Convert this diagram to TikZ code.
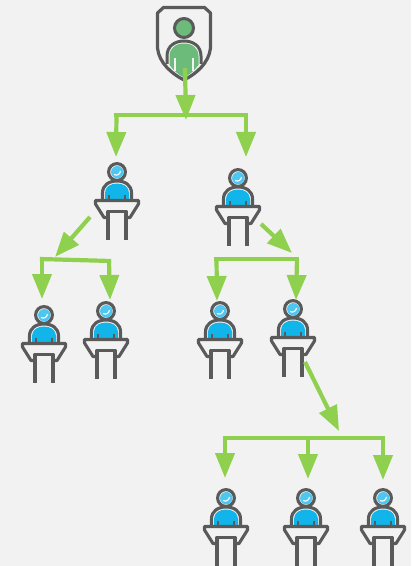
\documentclass[tikz,border=0pt]{standalone}
\usetikzlibrary{arrows.meta}
\definecolor{bgc}{HTML}{F2F2F2}
\definecolor{grayc}{HTML}{5A5A5A}
\definecolor{linkc}{HTML}{8FD14F}
\definecolor{bluec}{HTML}{12B5EA}
\definecolor{greenc}{HTML}{6DBB7A}
\tikzset{
  link/.style={draw=linkc,line width=4.2bp,line cap=butt,line join=miter},
  arrowlink/.style={link,-{Triangle[length=25bp,width=19bp]}},
  outline/.style={draw=grayc,line width=3.1bp,line join=round},
  speaker/.pic={
    % head
    \path[outline,fill=bgc] (0,0) circle (8.4);
    \path[fill=bluec!75!white] (0.3,0.2) circle (6.2);
    \path[draw=white,line width=1.1bp] (-3,2.5) .. controls (0,4) and (3,2.5) .. (3.5,-1);
    % body
    \path[outline,fill=bgc] (-14.5,27) -- (-14.5,21) .. controls (-14.5,13) and (-8,9) .. (0,9)
       .. controls (8,9) and (14.5,13) .. (14.5,21) -- (14.5,27);
    \path[fill=bluec] (-12,27) -- (-12,21) .. controls (-12,14.5) and (-6,11.5) .. (0,11.5)
       .. controls (6,11.5) and (12,14.5) .. (12,21) -- (12,27) -- cycle;
    \path[draw=grayc,line width=1.3bp] (-8,27) -- (-8,22.5) (8,27) -- (8,22.5);
    % lectern
    \path[outline,fill=bgc] (-21.5,28.5) -- (21.5,28.5) -- (21.5,32) -- (13,45.5) -- (-13,45.5) -- (-21.5,32) -- cycle;
    \path[outline,fill=bgc] (-9,67.5) -- (-9,39.5) -- (9,39.5) -- (9,67.5);
  },
  chief/.pic={
    \path[draw=grayc,line width=3.2bp,line join=round]
      (-20.5,-20.5) -- (20.5,-20.5) -- (26.5,-15) -- (26.5,20) .. controls (25,35) and (12,46) .. (0,52)
      .. controls (-12,46) and (-25,35) .. (-26.5,20) -- (-26.5,-15) -- cycle;
    \path[draw=grayc,line width=3bp,fill=greenc] (0,0) circle (9.5);
    \path[draw=grayc,line width=3bp,fill=bgc] (-17,36) -- (-17,28) .. controls (-17,18) and (-9,13) .. (0,13)
       .. controls (9,13) and (17,18) .. (17,28) -- (17,36);
    \path[fill=greenc] (-14.5,37) -- (-14.5,28) .. controls (-14.5,20) and (-8,15.5) .. (0,15.5)
       .. controls (8,15.5) and (14.5,20) .. (14.5,28) -- (14.5,37) .. controls (10,43) and (5,47) .. (0,49.5)
       .. controls (-5,47) and (-10,43) .. (-14.5,37) -- cycle;
    \path[draw=bgc,line width=1.1bp] (-9,43) -- (-9,30) (9,43) -- (9,30);
  }
}
\begin{document}
\begin{tikzpicture}[x=1bp,y=-1bp]
\path[fill=bgc] (0,0) rectangle (411,566);
\useasboundingbox (0,0) rectangle (411,566);

% icons
\pic at (184,28) {chief};
\pic at (117,172) {speaker};
\pic at (238,178) {speaker};
\pic at (44,315) {speaker};
\pic at (106,311) {speaker};
\pic at (220,311) {speaker};
\pic at (293,309) {speaker};
\pic at (226,498) {speaker};
\pic at (306,498) {speaker};
\pic at (383,498) {speaker};

% connector anchors
\coordinate (rootout) at (185,68);
\coordinate (rootin) at (186,120);
\coordinate (barAl) at (116.5,115);
\coordinate (barAr) at (246,115);
\coordinate (tipA1) at (116,157);
\coordinate (tipA2) at (246,157);
\coordinate (s1out) at (90,217);
\coordinate (s1in) at (55,257);
\coordinate (barBl) at (42,259);
\coordinate (barBr) at (109,261);
\coordinate (tipB1) at (42,299);
\coordinate (tipB2) at (110,300);
\coordinate (s2out) at (261,224);
\coordinate (s2in) at (292,253);
\coordinate (barCl) at (216.5,259);
\coordinate (barCr) at (297,259);
\coordinate (tipC1) at (217,301);
\coordinate (tipC2) at (296,300);
\coordinate (s3out) at (305,362);
\coordinate (s3in) at (339,431);
\coordinate (barDl) at (225,438);
\coordinate (barDm) at (308,438);
\coordinate (barDr) at (383,438);
\coordinate (tipD1) at (225,478);
\coordinate (tipD2) at (308,479);
\coordinate (tipD3) at (383,480);

% connectors
\draw[arrowlink] (rootout) -- (rootin);
\draw[arrowlink] (barAl) -- (tipA1);
\draw[arrowlink] (barAr) -- (tipA2);
\draw[link] ([xshift=-2.1bp]barAl) -- ([xshift=2.1bp]barAr);

\draw[arrowlink] (s1out) -- (s1in);
\draw[arrowlink] (barBl) -- (tipB1);
\draw[arrowlink] (barBr) -- (tipB2);
\draw[link] ([xshift=-2.1bp]barBl) -- ([xshift=2.1bp]barBr);

\draw[arrowlink] (s2out) -- (s2in);
\draw[arrowlink] (barCl) -- (tipC1);
\draw[arrowlink] (barCr) -- (tipC2);
\draw[link] ([xshift=-2.1bp]barCl) -- ([xshift=2.1bp]barCr);

\draw[arrowlink] (s3out) -- (s3in);
\draw[arrowlink] (barDl) -- (tipD1);
\draw[arrowlink] (barDm) -- (tipD2);
\draw[arrowlink] (barDr) -- (tipD3);
\draw[link] ([xshift=-2.1bp]barDl) -- ([xshift=2.1bp]barDr);
\end{tikzpicture}
\end{document}
